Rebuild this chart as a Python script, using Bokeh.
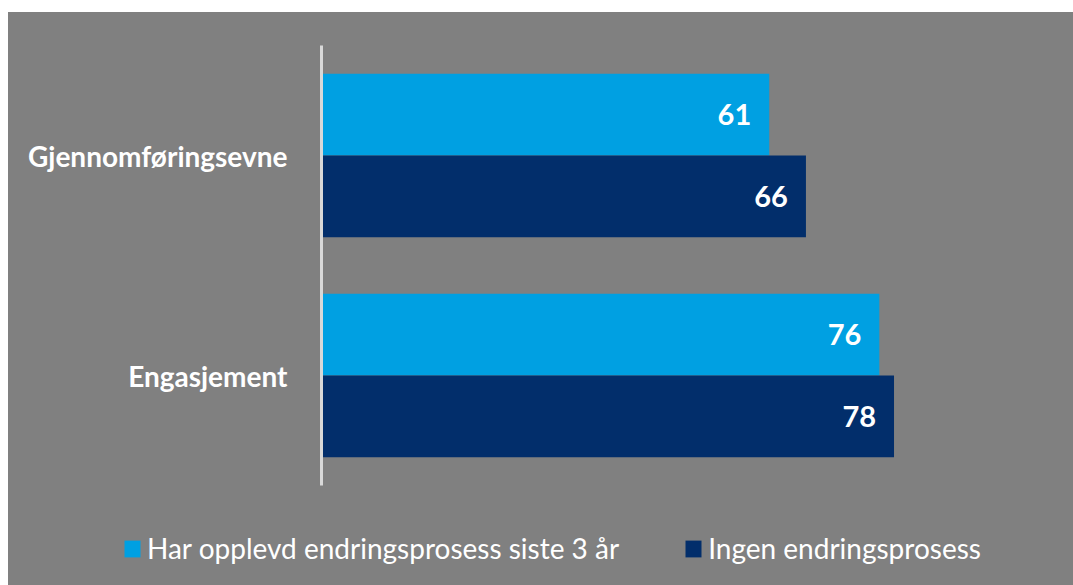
from bokeh.plotting import figure
from bokeh.models import ColumnDataSource, FactorRange, LabelSet, Legend, LegendItem, Spacer
from bokeh.layouts import column, row
from bokeh.transform import dodge
from bokeh.core.properties import value
from bokeh.embed import file_html
from bokeh.resources import INLINE

categories = ["Gjennomføringsevne", "Engasjement"]
series_names = ["Har opplevd endringsprosess siste 3 år", "Ingen endringsprosess"]
changed = [61, 76]
unchanged = [66, 78]

LIGHT = "#00A0E2"
DARK = "#022E6B"
BG = "#808080"
FONT = "Lato"

src = ColumnDataSource(dict(
    cat=categories,
    changed=changed,
    unchanged=unchanged,
    changed_lbl=[str(v) for v in changed],
    unchanged_lbl=[str(v) for v in unchanged],
))

p = figure(
    width=1065, height=500,
    y_range=FactorRange(factors=list(reversed(categories)), range_padding=0),
    x_range=(0, 100),
    x_axis_type=None,
    output_backend="svg", toolbar_location=None,
    min_border_left=313, min_border_right=18, min_border_top=33, min_border_bottom=27,
    outline_line_color=None,
)
p.frame_align = False
p.background_fill_color = None
p.border_fill_color = BG
p.styles = {"background-color": BG}
p.grid.visible = False

r1 = p.hbar(y=dodge("cat", 0.186, range=p.y_range), right="changed", left=0, height=0.372,
            source=src, fill_color=LIGHT, line_color=None)
r2 = p.hbar(y=dodge("cat", -0.186, range=p.y_range), right="unchanged", left=0, height=0.372,
            source=src, fill_color=DARK, line_color=None)

lbl_style = dict(text_color="white", text_font_size="29px", text_font_style="bold",
                 text_align="right", text_baseline="middle", x_offset=-18,
                 text_font=value(FONT))
p.add_layout(LabelSet(x="changed", y=dodge("cat", 0.186, range=p.y_range), text="changed_lbl",
                      source=src, **lbl_style))
p.add_layout(LabelSet(x="unchanged", y=dodge("cat", -0.186, range=p.y_range), text="unchanged_lbl",
                      source=src, **lbl_style))

ax = p.yaxis[0]
ax.axis_line_color = "#D9D9D9"
ax.axis_line_width = 3
ax.major_tick_line_color = None
ax.minor_tick_line_color = None
ax.major_label_text_color = "white"
ax.major_label_text_font = FONT
ax.major_label_text_font_style = "bold"
ax.major_label_text_font_size = "28px"
ax.major_label_standoff = 28

# legend strip below the chart (its own full-width frame, so the legend is not clipped)
q = figure(
    width=1065, height=73, x_range=(0, 1), y_range=(0, 1),
    x_axis_type=None, y_axis_type=None,
    output_backend="svg", toolbar_location=None,
    min_border=0, min_border_left=0, min_border_right=0, min_border_top=0, min_border_bottom=0,
    outline_line_color=None,
)
q.frame_align = False
q.background_fill_color = None
q.border_fill_color = BG
q.styles = {"background-color": BG}
q.grid.visible = False
# swatch renderers for the legend, kept outside the visible range of this strip
swatch = ColumnDataSource(dict(y=[-5], right=[0]))
l1 = q.hbar(y="y", right="right", height=0.5, source=swatch, fill_color=LIGHT, line_color=None)
l2 = q.hbar(y="y", right="right", height=0.5, source=swatch, fill_color=DARK, line_color=None)

legend = Legend(
    items=[LegendItem(label=series_names[0], renderers=[l1]),
           LegendItem(label=series_names[1], renderers=[l2])],
    orientation="horizontal",
    location=(114, 20),
    glyph_width=20, glyph_height=21,
    label_standoff=5, spacing=64, padding=0, margin=0,
    label_text_font=FONT, label_text_font_size="28px", label_text_color="white",
    background_fill_alpha=0, border_line_color=None,
)
q.add_layout(legend, "center")

layout = row(Spacer(width=8, height=585),
             column(Spacer(width=1065, height=12), p, q, spacing=0), spacing=0)
open("out.html", "w").write(file_html(layout, INLINE))
